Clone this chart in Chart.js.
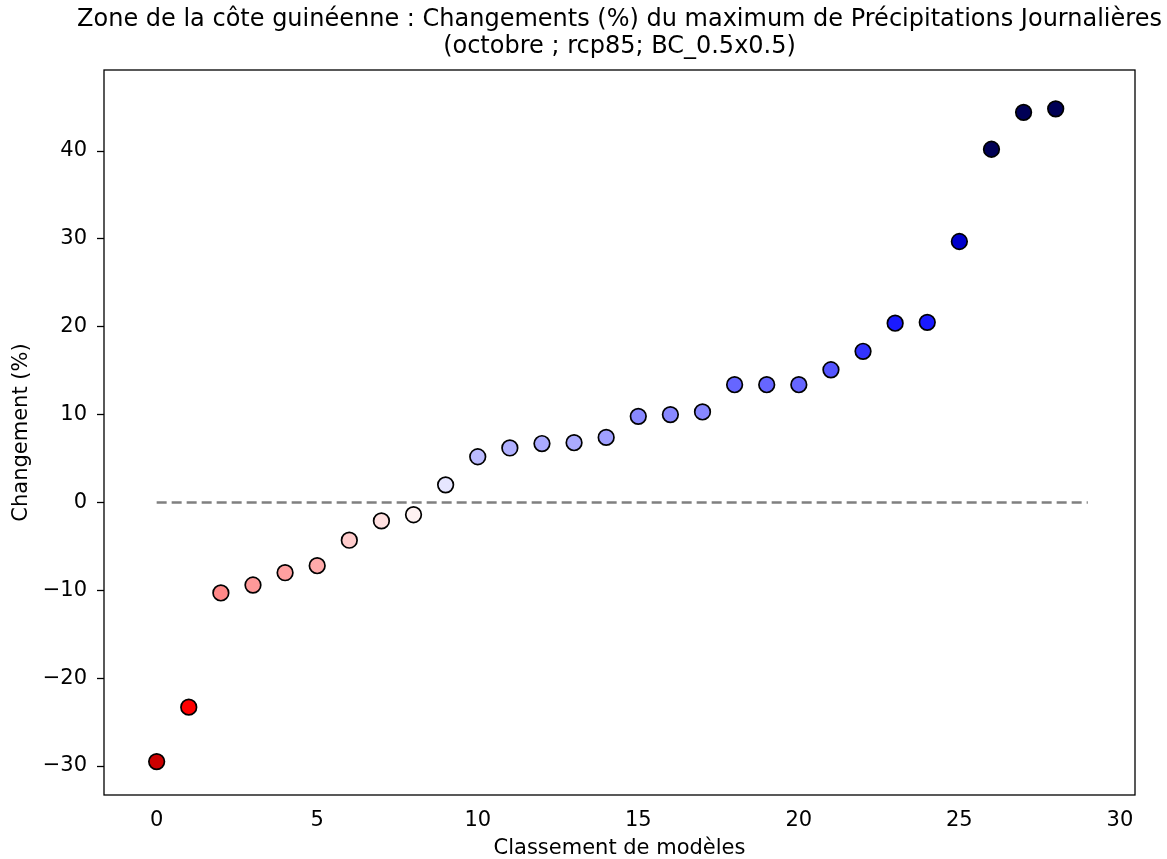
<!DOCTYPE html>
<html>
<head>
<meta charset="utf-8">
<script src="https://cdn.jsdelivr.net/npm/chart.js@4/dist/chart.umd.min.js"></script>
<style>
  html, body { margin: 0; padding: 0; background: #fff; }
  #wrap { width: 1167px; height: 859px; }
</style>
</head>
<body>
<div id="wrap"><canvas id="c" width="1167" height="859"></canvas></div>
<script>
const titleLines = [
  "Zone de la côte guinéenne : Changements (%) du maximum de Précipitations Journalières",
  "(octobre ; rcp85; BC_0.5x0.5)"
];
const xLabel = "Classement de modèles";
const yLabel = "Changement (%)";

const ranks = [0,1,2,3,4,5,6,7,8,9,10,11,12,13,14,15,16,17,18,19,20,21,22,23,24,25,26,27,28];
const changes = [-29.5,-23.3,-10.3,-9.4,-8.0,-7.2,-4.3,-2.1,-1.4,2.0,5.2,6.2,6.7,6.8,7.4,9.8,10.0,10.3,13.4,13.4,13.4,15.1,17.2,20.4,20.5,29.7,40.2,44.4,44.8];
const pointColors = ["#cc0000","#ff0000","#ff8888","#ff9999","#ffa0a0","#ffaaaa","#ffcccc","#ffe0e0","#fff2f2",
  "#e6e6ff","#bbbbff","#b0b0ff","#aaaaff","#aaaaff","#a0a0ff","#8888ff","#8888ff","#8888ff",
  "#6666ff","#6666ff","#6666ff","#5555ff","#3333ff","#1a1aff","#1a1aff","#0000cc","#000055","#000055","#000055"];
const zeroLineX = [0, 29];
const xTicks = [0,5,10,15,20,25,30];
const yTicks = [-30,-20,-10,0,10,20,30,40];

const FONT = "'DejaVu Sans', sans-serif";

const framePlugin = {
  id: 'frame',
  afterDatasetsDraw(chart) {
    const {ctx, chartArea: a} = chart;
    ctx.save();
    ctx.strokeStyle = '#000';
    ctx.lineWidth = 1.3;
    ctx.strokeRect(a.left, a.top, a.right - a.left, a.bottom - a.top);
    ctx.restore();
  },
  afterDraw(chart) {
    const {ctx, chartArea: a} = chart;
    const cx = (a.left + a.right) / 2;
    ctx.save();
    ctx.fillStyle = '#000';
    ctx.font = "24px " + FONT;
    ctx.textAlign = 'center';
    ctx.textBaseline = 'middle';
    ctx.fillText(titleLines[0], cx, 20);
    ctx.fillText(titleLines[1], cx, 47);
    ctx.restore();
  }
};

new Chart(document.getElementById('c'), {
  type: 'scatter',
  data: {
    datasets: [
      {
        type: 'line',
        data: zeroLineX.map(x => ({x: x, y: 0})),
        borderColor: '#808080',
        borderWidth: 2.5,
        borderDash: [10, 5],
        pointRadius: 0,
        fill: false,
        order: 2
      },
      {
        data: ranks.map((r, i) => ({x: r, y: changes[i]})),
        backgroundColor: pointColors,
        borderColor: '#000',
        borderWidth: 1.7,
        pointRadius: 7.8,
        pointHoverRadius: 7.8,
        order: 1
      }
    ]
  },
  options: {
    responsive: false,
    animation: false,
    events: [],
    layout: { padding: { left: 0, right: 32, top: 70, bottom: 0 } },
    plugins: { legend: { display: false }, tooltip: { enabled: false }, title: { display: false } },
    scales: {
      x: {
        type: 'linear',
        min: -1.64, max: 30.47,
        afterFit(s) { s.height = 64; },
        afterBuildTicks(s) { s.ticks = xTicks.map(v => ({value: v})); },
        grid: { display: true, drawOnChartArea: false, drawTicks: false, color: '#000' },
        border: { display: false },
        ticks: { color: '#000', font: { family: FONT, size: 21 }, padding: 13, maxRotation: 0 },
        title: { display: true, text: xLabel, color: '#000', font: { family: FONT, size: 21, lineHeight: 1 }, padding: { top: 0, bottom: 0 } }
      },
      y: {
        type: 'linear',
        min: -33.3, max: 49.22,
        afterFit(s) { s.width = 104; },
        afterBuildTicks(s) { s.ticks = yTicks.map(v => ({value: v})); },
        grid: { display: true, drawOnChartArea: false, drawTicks: true, tickLength: 7, color: '#000', tickWidth: 1.3 },
        border: { display: false },
        ticks: { color: '#000', font: { family: FONT, size: 21 }, padding: 10,
          callback: v => (v < 0 ? '\u2212' + Math.abs(v) : String(v)) },
        title: { display: true, text: yLabel, color: '#000', font: { family: FONT, size: 21, lineHeight: 1 }, padding: { top: 11, bottom: 0 } }
      }
    }
  },
  plugins: [framePlugin]
});
</script>
</body>
</html>
